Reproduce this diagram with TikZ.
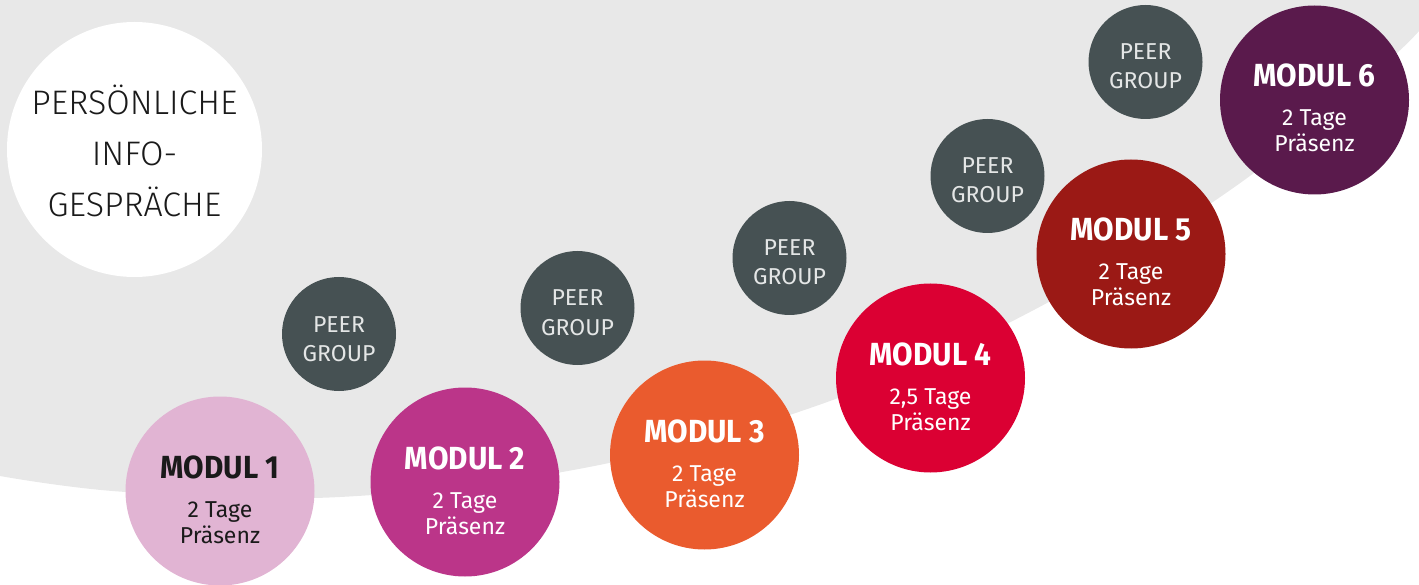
\documentclass[tikz,border=0pt]{standalone}
\usepackage{fontspec}
\setmainfont{Fira Sans}
\IfFontExistsTF{Fira Sans Light}
  {\newfontfamily\lightfont{Fira Sans Light}}
  {\IfFontExistsTF{FiraSans-Light.otf}
    {\newfontfamily\lightfont{FiraSans-Light.otf}}
    {\newfontfamily\lightfont{Fira Sans}}}
\newfontfamily\regfont{Fira Sans}
\newfontfamily\titlefont{Fira Sans}[FakeStretch=0.93]
\definecolor{bggrey}{HTML}{E8E8E8}
\definecolor{peer}{HTML}{465153}
\definecolor{peertext}{HTML}{E4E6E6}
\definecolor{mA}{HTML}{E1B4D3}
\definecolor{mB}{HTML}{BB3589}
\definecolor{mC}{HTML}{EA5B2E}
\definecolor{mD}{HTML}{DB0033}
\definecolor{mE}{HTML}{9B1915}
\definecolor{mF}{HTML}{5A1A4C}
\definecolor{darktext}{HTML}{1A1A1A}
\tikzset{
  bubble/.style={circle, inner sep=0pt, draw=none},
  modc/.style={bubble, minimum size=189pt},
  peerc/.style={bubble, minimum size=114pt, fill=peer},
  infoc/.style={bubble, minimum size=255pt, fill=white},
  ttl/.style={anchor=base, inner sep=0pt, font=\titlefont\bfseries\fontsize{32}{32}\selectfont},
  sub/.style={anchor=base, inner sep=0pt, font=\regfont\fontsize{23}{23}\selectfont},
  peertxt/.style={anchor=base, inner sep=0pt, text=peertext, font=\regfont\fontsize{23}{23}\selectfont},
  infotxt/.style={anchor=base, inner sep=0pt, text=darktext, font=\lightfont\fontsize{34}{34}\selectfont},
}
\newcommand\drawmodul[7]{%
  \node[modc, fill=#4] (#1) at (#2,#3) {};
  \node[ttl, text=#5] (#1t) at (#2,#3-13) {#6};
  \node[sub, text=#5] (#1a) at (#2,#3+26) {#7};
  \node[sub, text=#5] (#1b) at (#2,#3+52) {Präsenz};
}
\newcommand\drawpeer[3]{%
  \node[peerc] (#1) at (#2,#3) {};
  \node[peertxt] (#1a) at (#2,#3-2) {PEER};
  \node[peertxt] (#1b) at (#2,#3+27) {GROUP};
}
\begin{document}
\begin{tikzpicture}[x=1pt, y=-1pt]
  \useasboundingbox (0,0) rectangle (1419,585);
  \begin{scope}
    \clip (0,0) rectangle (1419,585);
    \fill[bggrey] (-10,-10) -- (-10,473) -- plot[smooth, tension=0.6] coordinates
      {(0,476) (126,492) (340,497) (584,468) (816,406) (1030,312) (1236,186) (1397,53) (1442,0)}
      -- (1450,-10) -- cycle;
  \end{scope}
  % info circle
  \node[infoc] (info) at (134.5,149.5) {};
  \node[infotxt] (infoa) at (134.5,115) {PERSÖNLICHE};
  \node[infotxt] (infob) at (134.5,166) {INFO-};
  \node[infotxt] (infoc) at (134.5,217) {GESPRÄCHE};
  % peer groups
  \drawpeer{pA}{339}{334}
  \drawpeer{pB}{577.5}{308}
  \drawpeer{pC}{789.5}{258}
  \drawpeer{pD}{987.5}{176}
  \drawpeer{pE}{1145.5}{62}
  % modules
  \drawmodul{mA}{220}{491}{mA}{darktext}{MODUL 1}{2 Tage}
  \drawmodul{mB}{465}{482}{mB}{white}{MODUL 2}{2 Tage}
  \drawmodul{mC}{704.5}{455}{mC}{white}{MODUL 3}{2 Tage}
  \drawmodul{mD}{930.5}{378}{mD}{white}{MODUL 4}{2,5 Tage}
  \drawmodul{mE}{1131}{254}{mE}{white}{MODUL 5}{2 Tage}
  \drawmodul{mF}{1314.5}{100}{mF}{white}{MODUL 6}{2 Tage}
\end{tikzpicture}
\end{document}
